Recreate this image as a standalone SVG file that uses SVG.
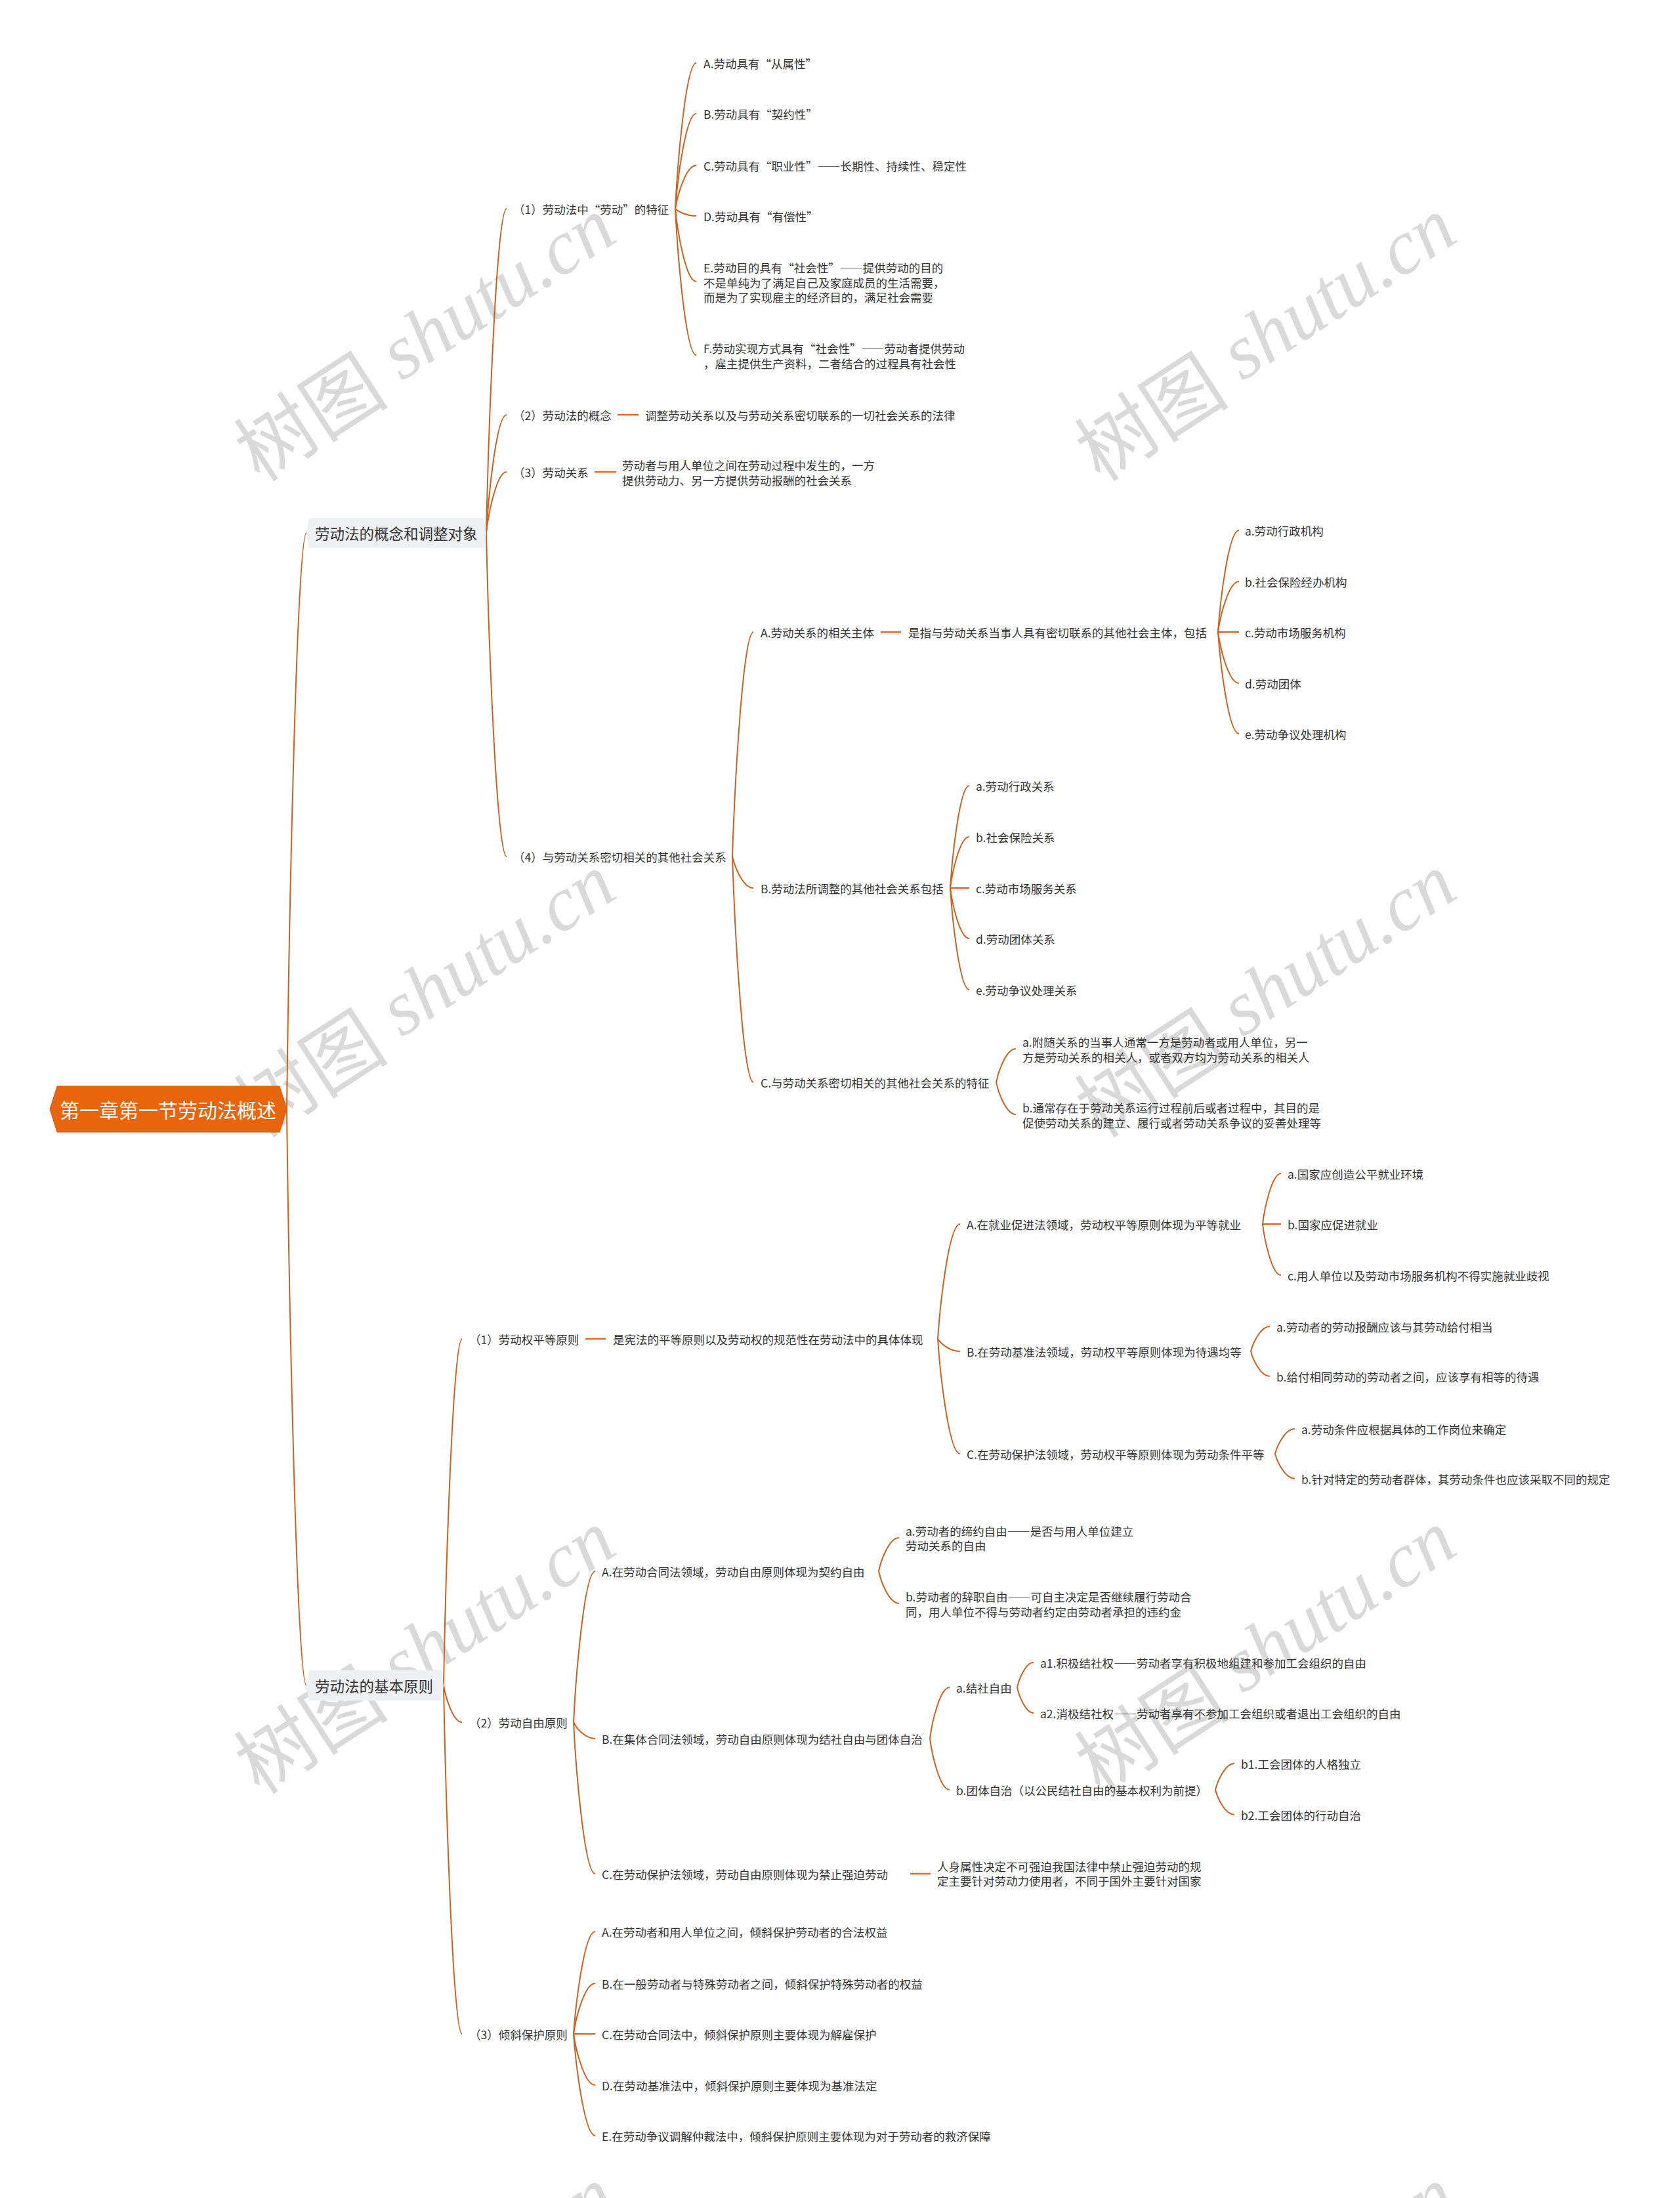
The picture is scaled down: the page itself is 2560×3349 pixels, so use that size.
<svg xmlns="http://www.w3.org/2000/svg" width="2560" height="3349" viewBox="0 0 2560 3349" xml:lang="zh-CN">
<style>
.t{font-family:"Noto Sans CJK SC","Noto Sans",sans-serif;font-size:17.5px;fill:#333;dominant-baseline:central}
.l1{font-size:22.5px}
.rt{font-size:30px;fill:#fff}
.c{fill:none;stroke:#C8631F;stroke-width:2}
.d{fill:none;stroke:#DC6A22;stroke-width:2.5}
.box1{fill:#EEF0F3}
.rootbox{fill:#E8650C;stroke:#D65A08;stroke-width:1}
.wm{font-size:118px;fill:#000;fill-opacity:0.15;text-anchor:middle;dominant-baseline:central}
.wmc{font-family:"Noto Sans CJK SC",sans-serif}
.wml{font-family:"Liberation Serif",serif;font-style:italic}
</style>
<rect width="2560" height="3349" fill="#fff"/>

<g id="watermarks">
<text class="wm" transform="translate(645,512) rotate(-33)"><tspan class="wmc">树图</tspan><tspan class="wml"> shutu.cn</tspan></text>
<text class="wm" transform="translate(1926,512) rotate(-33)"><tspan class="wmc">树图</tspan><tspan class="wml"> shutu.cn</tspan></text>
<text class="wm" transform="translate(645,1512) rotate(-33)"><tspan class="wmc">树图</tspan><tspan class="wml"> shutu.cn</tspan></text>
<text class="wm" transform="translate(1926,1512) rotate(-33)"><tspan class="wmc">树图</tspan><tspan class="wml"> shutu.cn</tspan></text>
<text class="wm" transform="translate(645,2512) rotate(-33)"><tspan class="wmc">树图</tspan><tspan class="wml"> shutu.cn</tspan></text>
<text class="wm" transform="translate(1926,2512) rotate(-33)"><tspan class="wmc">树图</tspan><tspan class="wml"> shutu.cn</tspan></text>
<text class="wm" transform="translate(645,3512) rotate(-33)"><tspan class="wmc">树图</tspan><tspan class="wml"> shutu.cn</tspan></text>
<text class="wm" transform="translate(1926,3512) rotate(-33)"><tspan class="wmc">树图</tspan><tspan class="wml"> shutu.cn</tspan></text>
</g>

<g id="connectors">
<path class="c" d="M437,1690 C440,1427 452,812 467,812"/>
<path class="c" d="M437,1690 C440,1953 452,2568 467,2568"/>

<path class="c" d="M741,812 C744.1,663.8 756.5,318 772,318"/>
<path class="c" d="M741,812 C744.1,758 756.5,632 772,632"/>
<path class="c" d="M741,812 C744.1,784.1 756.5,719 772,719"/>
<path class="c" d="M741,812 C744.1,959.9 756.5,1305 772,1305"/>

<path class="c" d="M1029,318 C1032.2,251.4 1045,96 1061,96"/>
<path class="c" d="M1029,318 C1032.2,274.5 1045,173 1061,173"/>
<path class="c" d="M1029,318 C1032.2,298.2 1045,252 1061,252"/>
<path class="c" d="M1029,318 C1032.2,321.3 1045,329 1061,329"/>
<path class="c" d="M1029,318 C1032.2,351.3 1045,429 1061,429"/>
<path class="c" d="M1029,318 C1032.2,384.9 1045,541 1061,541"/>

<path class="d" d="M941,632 H973"/>
<path class="d" d="M906,719 H939"/>

<path class="c" d="M1116,1305 C1119.2,1202.4 1132,963 1148,963"/>
<path class="c" d="M1116,1305 C1119.2,1319.4 1132,1353 1148,1353"/>
<path class="c" d="M1116,1305 C1119.2,1408.2 1132,1649 1148,1649"/>

<path class="d" d="M1342,963 H1373"/>
<path class="c" d="M1856,963 C1859.2,916.5 1872,808 1888,808"/>
<path class="c" d="M1856,963 C1859.2,939.9 1872,886 1888,886"/>
<path class="c" d="M1856,963 H1888"/>
<path class="c" d="M1856,963 C1859.2,986.4 1872,1041 1888,1041"/>
<path class="c" d="M1856,963 C1859.2,1009.5 1872,1118 1888,1118"/>

<path class="c" d="M1448,1353 C1450.9,1306.2 1462.5,1197 1477,1197"/>
<path class="c" d="M1448,1353 C1450.9,1329.6 1462.5,1275 1477,1275"/>
<path class="c" d="M1448,1353 H1477"/>
<path class="c" d="M1448,1353 C1450.9,1376.1 1462.5,1430 1477,1430"/>
<path class="c" d="M1448,1353 C1450.9,1399.5 1462.5,1508 1477,1508"/>

<path class="c" d="M1518,1649 C1521,1633.7 1533,1598 1548,1598"/>
<path class="c" d="M1518,1649 C1521,1663.7 1533,1698 1548,1698"/>

<path class="c" d="M676,2568 C678.8,2409.6 690,2040 704,2040"/>
<path class="c" d="M676,2568 C678.8,2584.8 690,2624 704,2624"/>
<path class="c" d="M676,2568 C678.8,2727.3 690,3099 704,3099"/>

<path class="d" d="M892,2040 H923"/>
<path class="c" d="M1429,2040 C1432.4,1987.5 1446,1865 1463,1865"/>
<path class="c" d="M1429,2040 C1432.4,2045.7 1446,2059 1463,2059"/>
<path class="c" d="M1429,2040 C1432.4,2092.5 1446,2215 1463,2215"/>

<path class="c" d="M1924,1865 C1926.8,1841.9 1938,1788 1952,1788"/>
<path class="c" d="M1924,1865 H1952"/>
<path class="c" d="M1924,1865 C1926.8,1888.4 1938,1943 1952,1943"/>

<path class="c" d="M1906,2059 C1908.9,2047.6 1920.5,2021 1935,2021"/>
<path class="c" d="M1906,2059 C1908.9,2070.4 1920.5,2097 1935,2097"/>

<path class="c" d="M1943,2215 C1946,2203.6 1958,2177 1973,2177"/>
<path class="c" d="M1943,2215 C1946,2226.4 1958,2253 1973,2253"/>

<path class="c" d="M874,2624 C877.3,2555 890.5,2394 907,2394"/>
<path class="c" d="M874,2624 C877.3,2631.5 890.5,2649 907,2649"/>
<path class="c" d="M874,2624 C877.3,2693.3 890.5,2855 907,2855"/>

<path class="c" d="M1339,2394 C1342.1,2378.7 1354.5,2343 1370,2343"/>
<path class="c" d="M1339,2394 C1342.1,2408.7 1354.5,2443 1370,2443"/>

<path class="c" d="M1417,2649 C1420,2625.6 1432,2571 1447,2571"/>
<path class="c" d="M1417,2649 C1420,2672.4 1432,2727 1447,2727"/>

<path class="c" d="M1550,2571 C1552.5,2559.6 1562.5,2533 1575,2533"/>
<path class="c" d="M1550,2571 C1552.5,2582.7 1562.5,2610 1575,2610"/>

<path class="c" d="M1852,2727 C1854.9,2715 1866.5,2687 1881,2687"/>
<path class="c" d="M1852,2727 C1854.9,2738.4 1866.5,2765 1881,2765"/>

<path class="d" d="M1387,2855 H1418"/>

<path class="c" d="M874,3099 C877.3,3052.2 890.5,2943 907,2943"/>
<path class="c" d="M874,3099 C877.3,3075.9 890.5,3022 907,3022"/>
<path class="c" d="M874,3099 H907"/>
<path class="c" d="M874,3099 C877.3,3122.4 890.5,3177 907,3177"/>
<path class="c" d="M874,3099 C877.3,3145.5 890.5,3254 907,3254"/>
</g>

<g id="n-root">
<path class="rootbox" d="M76,1690 L87,1655 L426,1655 L437,1690 L426,1725 L87,1725 Z"/>
<text class="t rt" x="91" y="1690">第一章第一节劳动法概述</text>
</g>

<g id="n-concept">
<path class="box1" d="M467,812 L471,789 L737,789 L741,812 L737,835 L471,835 Z"/>
<text class="t l1" x="480" y="812">劳动法的概念和调整对象</text>
</g>
<g id="n-c1"><text class="t" x="782" y="318">（1）劳动法中“劳动”的特征</text></g>
<g id="n-c1a"><text class="t" x="1072" y="96">A.劳动具有“从属性”</text></g>
<g id="n-c1b"><text class="t" x="1072" y="173">B.劳动具有“契约性”</text></g>
<g id="n-c1c"><text class="t" x="1072" y="252">C.劳动具有“职业性”——长期性、持续性、稳定性</text></g>
<g id="n-c1d"><text class="t" x="1072" y="329">D.劳动具有“有偿性”</text></g>
<g id="n-c1e">
<text class="t" x="1072" y="407">E.劳动目的具有“社会性”——提供劳动的目的</text>
<text class="t" x="1072" y="430">不是单纯为了满足自己及家庭成员的生活需要，</text>
<text class="t" x="1072" y="452">而是为了实现雇主的经济目的，满足社会需要</text>
</g>
<g id="n-c1f">
<text class="t" x="1072" y="530">F.劳动实现方式具有“社会性”——劳动者提供劳动</text>
<text class="t" x="1072" y="553">，雇主提供生产资料，二者结合的过程具有社会性</text>
</g>
<g id="n-c2"><text class="t" x="782" y="632">（2）劳动法的概念</text></g>
<g id="n-c2a"><text class="t" x="983" y="632">调整劳动关系以及与劳动关系密切联系的一切社会关系的法律</text></g>
<g id="n-c3"><text class="t" x="782" y="719">（3）劳动关系</text></g>
<g id="n-c3a">
<text class="t" x="948" y="708">劳动者与用人单位之间在劳动过程中发生的，一方</text>
<text class="t" x="948" y="731">提供劳动力、另一方提供劳动报酬的社会关系</text>
</g>
<g id="n-c4"><text class="t" x="782" y="1305">（4）与劳动关系密切相关的其他社会关系</text></g>
<g id="n-c4A"><text class="t" x="1159" y="963">A.劳动关系的相关主体</text></g>
<g id="n-c4A1"><text class="t" x="1384" y="963">是指与劳动关系当事人具有密切联系的其他社会主体，包括</text></g>
<g id="n-c4Aa"><text class="t" x="1897" y="808">a.劳动行政机构</text></g>
<g id="n-c4Ab"><text class="t" x="1897" y="886">b.社会保险经办机构</text></g>
<g id="n-c4Ac"><text class="t" x="1897" y="963">c.劳动市场服务机构</text></g>
<g id="n-c4Ad"><text class="t" x="1897" y="1041">d.劳动团体</text></g>
<g id="n-c4Ae"><text class="t" x="1897" y="1118">e.劳动争议处理机构</text></g>
<g id="n-c4B"><text class="t" x="1159" y="1353">B.劳动法所调整的其他社会关系包括</text></g>
<g id="n-c4Ba"><text class="t" x="1487" y="1197">a.劳动行政关系</text></g>
<g id="n-c4Bb"><text class="t" x="1487" y="1275">b.社会保险关系</text></g>
<g id="n-c4Bc"><text class="t" x="1487" y="1353">c.劳动市场服务关系</text></g>
<g id="n-c4Bd"><text class="t" x="1487" y="1430">d.劳动团体关系</text></g>
<g id="n-c4Be"><text class="t" x="1487" y="1508">e.劳动争议处理关系</text></g>
<g id="n-c4C"><text class="t" x="1159" y="1649">C.与劳动关系密切相关的其他社会关系的特征</text></g>
<g id="n-c4Ca">
<text class="t" x="1558" y="1587">a.附随关系的当事人通常一方是劳动者或用人单位，另一</text>
<text class="t" x="1558" y="1610">方是劳动关系的相关人，或者双方均为劳动关系的相关人</text>
</g>
<g id="n-c4Cb">
<text class="t" x="1558" y="1687">b.通常存在于劳动关系运行过程前后或者过程中，其目的是</text>
<text class="t" x="1558" y="1710">促使劳动关系的建立、履行或者劳动关系争议的妥善处理等</text>
</g>

<g id="n-principle">
<path class="box1" d="M467,2568 L471,2545 L672,2545 L676,2568 L672,2591 L471,2591 Z"/>
<text class="t l1" x="480" y="2568">劳动法的基本原则</text>
</g>
<g id="n-p1"><text class="t" x="715" y="2040">（1）劳动权平等原则</text></g>
<g id="n-p1x"><text class="t" x="934" y="2040">是宪法的平等原则以及劳动权的规范性在劳动法中的具体体现</text></g>
<g id="n-p1A"><text class="t" x="1473" y="1865">A.在就业促进法领域，劳动权平等原则体现为平等就业</text></g>
<g id="n-p1Aa"><text class="t" x="1962" y="1788">a.国家应创造公平就业环境</text></g>
<g id="n-p1Ab"><text class="t" x="1962" y="1865">b.国家应促进就业</text></g>
<g id="n-p1Ac"><text class="t" x="1962" y="1943">c.用人单位以及劳动市场服务机构不得实施就业歧视</text></g>
<g id="n-p1B"><text class="t" x="1473" y="2059">B.在劳动基准法领域，劳动权平等原则体现为待遇均等</text></g>
<g id="n-p1Ba"><text class="t" x="1945" y="2021">a.劳动者的劳动报酬应该与其劳动给付相当</text></g>
<g id="n-p1Bb"><text class="t" x="1945" y="2097">b.给付相同劳动的劳动者之间，应该享有相等的待遇</text></g>
<g id="n-p1C"><text class="t" x="1473" y="2215">C.在劳动保护法领域，劳动权平等原则体现为劳动条件平等</text></g>
<g id="n-p1Ca"><text class="t" x="1983" y="2177">a.劳动条件应根据具体的工作岗位来确定</text></g>
<g id="n-p1Cb"><text class="t" x="1983" y="2253">b.针对特定的劳动者群体，其劳动条件也应该采取不同的规定</text></g>

<g id="n-p2"><text class="t" x="715" y="2624">（2）劳动自由原则</text></g>
<g id="n-p2A"><text class="t" x="917" y="2394">A.在劳动合同法领域，劳动自由原则体现为契约自由</text></g>
<g id="n-p2Aa">
<text class="t" x="1380" y="2332">a.劳动者的缔约自由——是否与用人单位建立</text>
<text class="t" x="1380" y="2354">劳动关系的自由</text>
</g>
<g id="n-p2Ab">
<text class="t" x="1380" y="2432">b.劳动者的辞职自由——可自主决定是否继续履行劳动合</text>
<text class="t" x="1380" y="2455">同，用人单位不得与劳动者约定由劳动者承担的违约金</text>
</g>
<g id="n-p2B"><text class="t" x="917" y="2649">B.在集体合同法领域，劳动自由原则体现为结社自由与团体自治</text></g>
<g id="n-p2Ba"><text class="t" x="1457" y="2571">a.结社自由</text></g>
<g id="n-p2Ba1"><text class="t" x="1585" y="2533">a1.积极结社权——劳动者享有积极地组建和参加工会组织的自由</text></g>
<g id="n-p2Ba2"><text class="t" x="1585" y="2610">a2.消极结社权——劳动者享有不参加工会组织或者退出工会组织的自由</text></g>
<g id="n-p2Bb"><text class="t" x="1457" y="2727">b.团体自治（以公民结社自由的基本权利为前提）</text></g>
<g id="n-p2Bb1"><text class="t" x="1891" y="2687">b1.工会团体的人格独立</text></g>
<g id="n-p2Bb2"><text class="t" x="1891" y="2765">b2.工会团体的行动自治</text></g>
<g id="n-p2C"><text class="t" x="917" y="2855">C.在劳动保护法领域，劳动自由原则体现为禁止强迫劳动</text></g>
<g id="n-p2Cx">
<text class="t" x="1428" y="2843">人身属性决定不可强迫我国法律中禁止强迫劳动的规</text>
<text class="t" x="1428" y="2865">定主要针对劳动力使用者，不同于国外主要针对国家</text>
</g>

<g id="n-p3"><text class="t" x="715" y="3099">（3）倾斜保护原则</text></g>
<g id="n-p3A"><text class="t" x="917" y="2943">A.在劳动者和用人单位之间，倾斜保护劳动者的合法权益</text></g>
<g id="n-p3B"><text class="t" x="917" y="3022">B.在一般劳动者与特殊劳动者之间，倾斜保护特殊劳动者的权益</text></g>
<g id="n-p3C"><text class="t" x="917" y="3099">C.在劳动合同法中，倾斜保护原则主要体现为解雇保护</text></g>
<g id="n-p3D"><text class="t" x="917" y="3177">D.在劳动基准法中，倾斜保护原则主要体现为基准法定</text></g>
<g id="n-p3E"><text class="t" x="917" y="3254">E.在劳动争议调解仲裁法中，倾斜保护原则主要体现为对于劳动者的救济保障</text></g>
</svg>
